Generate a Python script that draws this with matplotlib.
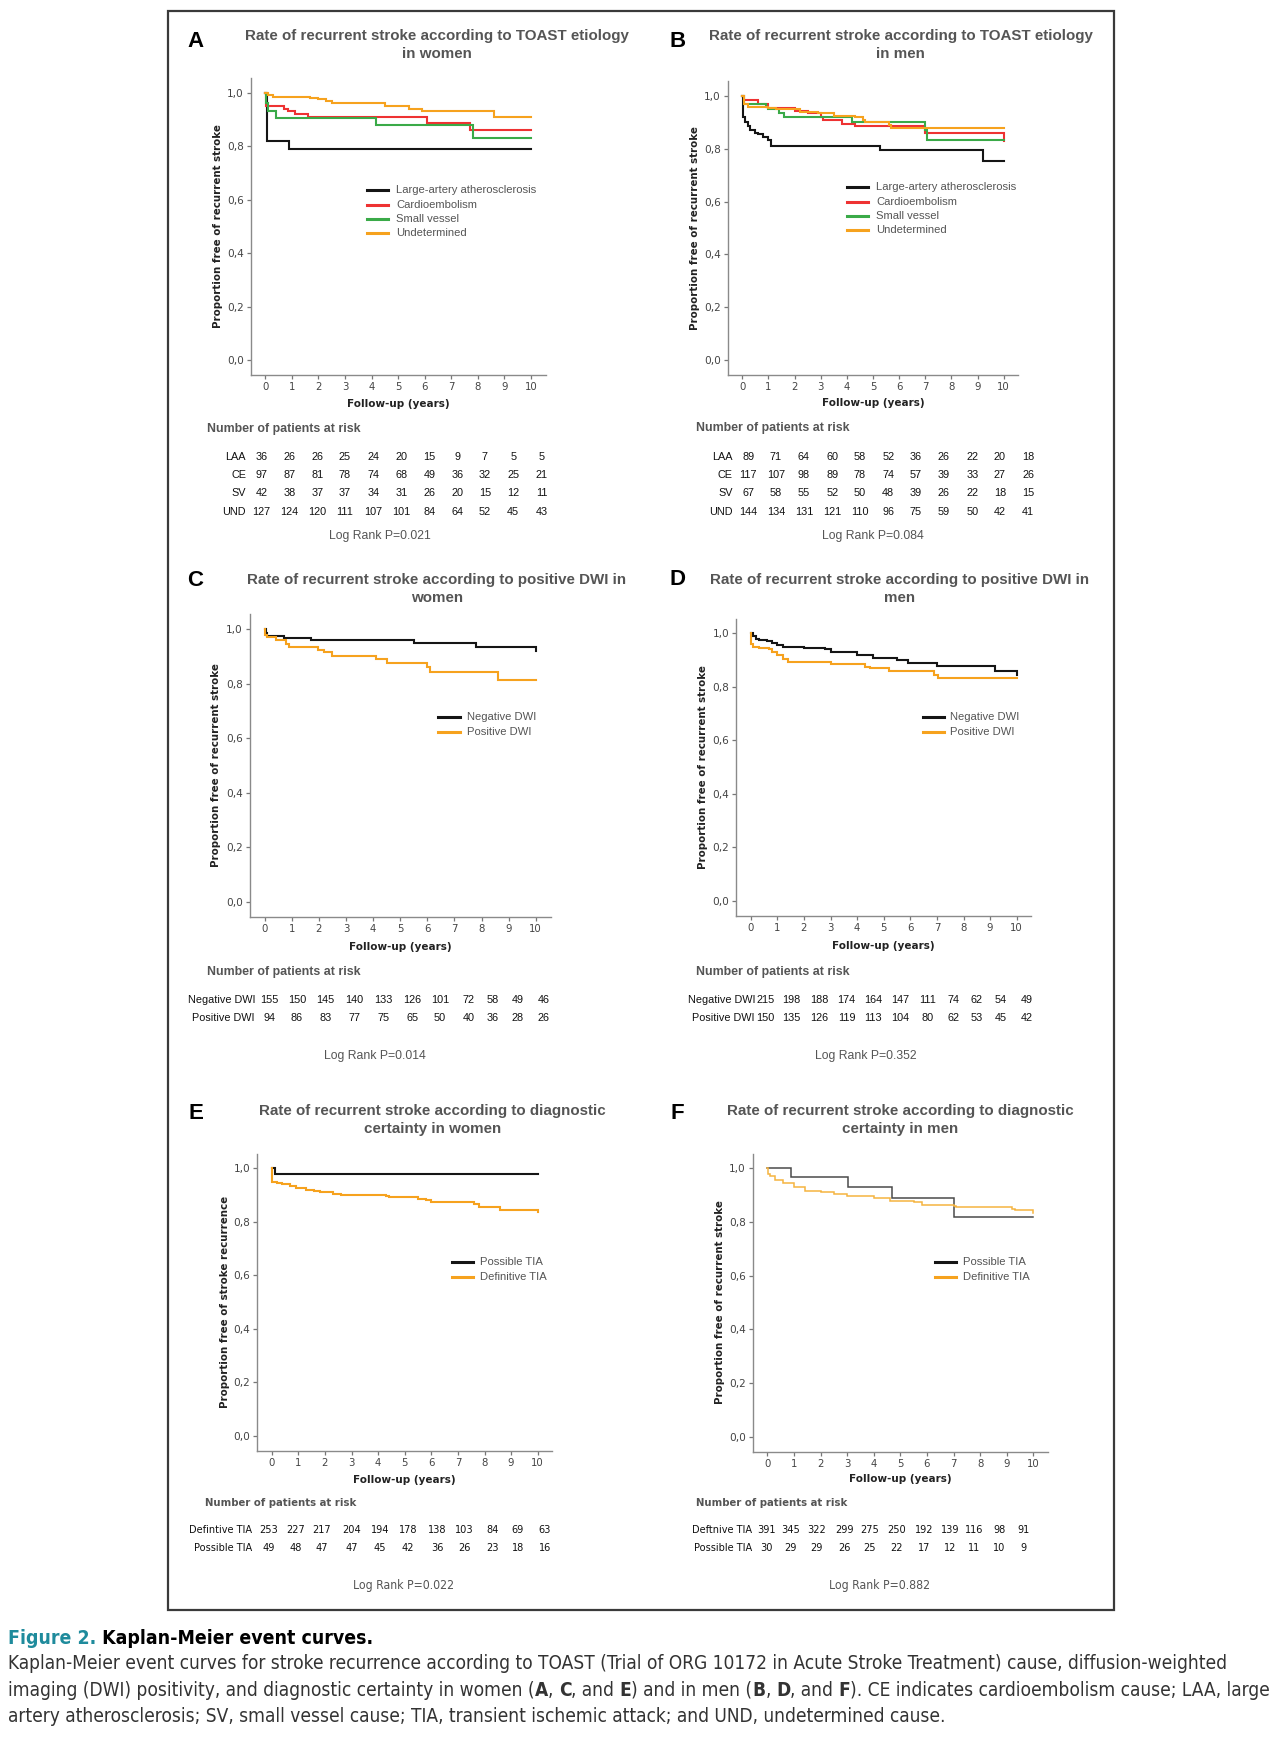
import matplotlib
matplotlib.use('Agg')
import matplotlib.pyplot as plt
from matplotlib.lines import Line2D
from matplotlib.patches import Rectangle
from matplotlib import font_manager

W, H = 1280, 1738
fig = plt.figure(figsize=(W / 100, H / 100), dpi=100)
fig.patch.set_facecolor('white')

SANS = 'Liberation Sans'
TICKF = 'DejaVu Sans'
# a condensed face if one is installed, else plain Liberation Sans
NARROW, NSTRETCH = 'Liberation Sans', 'normal'
for f in font_manager.fontManager.ttflist:
    if 'Narrow' in f.name or 'Condensed' in f.name or f.stretch in ('condensed', 'semi-condensed'):
        NARROW, NSTRETCH = f.name, f.stretch
        break

BLACK = '#151515'
RED = '#ee3232'
GREEN = '#3aaa48'
ORANGE = '#f6a21e'
GRAY = '#555555'

# ---- data ----
years = list(range(11))
ytick_vals = [0, 0.2, 0.4, 0.6, 0.8, 1.0]
ytick_labels = ['0,0', '0,2', '0,4', '0,6', '0,8', '1,0']

toast_labels = ['Large-artery atherosclerosis', 'Cardioembolism', 'Small vessel', 'Undetermined']
dwi_labels = ['Negative DWI', 'Positive DWI']
tia_labels = ['Possible TIA', 'Definitive TIA']

# A: women, TOAST
a_laa_t = [0, 0.05, 0.9, 10]
a_laa_s = [1.0, 0.82, 0.79, 0.79]
a_ce_t = [0, 0.04, 0.7, 0.85, 1.1, 1.6, 6.1, 7.7, 10]
a_ce_s = [1.0, 0.95, 0.94, 0.93, 0.92, 0.91, 0.885, 0.86, 0.86]
a_sv_t = [0, 0.03, 0.1, 0.4, 4.15, 7.8, 10]
a_sv_s = [1.0, 0.96, 0.93, 0.905, 0.88, 0.83, 0.83]
a_und_t = [0, 0.1, 0.3, 1.7, 2.0, 2.3, 2.5, 4.5, 5.4, 5.9, 8.6, 10]
a_und_s = [1.0, 0.99, 0.985, 0.98, 0.975, 0.97, 0.96, 0.95, 0.94, 0.93, 0.91, 0.91]

# B: men, TOAST
b_laa_t = [0, 0.02, 0.1, 0.2, 0.3, 0.5, 0.6, 0.8, 1.0, 1.1, 5.25, 9.2, 10]
b_laa_s = [1.0, 0.92, 0.9, 0.885, 0.87, 0.86, 0.855, 0.845, 0.835, 0.81, 0.795, 0.755, 0.755]
b_ce_t = [0, 0.05, 0.6, 1.0, 2.0, 2.5, 3.0, 3.1, 3.8, 4.3, 7.0, 10]
b_ce_s = [1.0, 0.985, 0.97, 0.955, 0.945, 0.935, 0.92, 0.91, 0.895, 0.885, 0.86, 0.83]
b_sv_t = [0, 0.05, 0.9, 1.0, 1.4, 1.6, 4.2, 7.0, 7.05, 10]
b_sv_s = [1.0, 0.97, 0.96, 0.95, 0.935, 0.92, 0.9, 0.87, 0.835, 0.835]
b_und_t = [0, 0.05, 0.2, 1.0, 1.3, 2.2, 2.9, 3.5, 4.3, 4.6, 4.7, 5.6, 5.7, 10]
b_und_s = [1.0, 0.97, 0.96, 0.955, 0.95, 0.94, 0.935, 0.925, 0.92, 0.91, 0.9, 0.89, 0.88, 0.88]

# C: women, DWI
c_neg_t = [0, 0.05, 0.1, 0.7, 1.7, 5.5, 7.8, 10]
c_neg_s = [1.0, 0.985, 0.975, 0.968, 0.96, 0.95, 0.935, 0.92]
c_pos_t = [0, 0.02, 0.1, 0.4, 0.8, 0.9, 1.95, 2.2, 2.5, 4.1, 4.5, 6.0, 6.1, 8.6, 10]
c_pos_s = [1.0, 0.98, 0.97, 0.96, 0.945, 0.935, 0.925, 0.915, 0.903, 0.89, 0.878, 0.863, 0.843, 0.815, 0.815]

# D: men, DWI
d_neg_t = [0, 0.1, 0.2, 0.3, 0.6, 0.8, 1.0, 1.2, 2.0, 2.8, 3.0, 4.0, 4.6, 5.5, 5.9, 7.0, 9.2, 10]
d_neg_s = [1.0, 0.99, 0.98, 0.975, 0.97, 0.965, 0.955, 0.95, 0.945, 0.94, 0.93, 0.92, 0.907, 0.9, 0.89, 0.879, 0.86, 0.845]
d_pos_t = [0, 0.02, 0.1, 0.3, 0.7, 0.8, 1.0, 1.2, 1.4, 3.0, 4.3, 4.5, 5.2, 6.9, 7.05, 10]
d_pos_s = [1.0, 0.96, 0.95, 0.945, 0.94, 0.93, 0.92, 0.905, 0.894, 0.884, 0.875, 0.869, 0.86, 0.845, 0.833, 0.833]

# E: women, diagnostic certainty
e_pos_t = [0, 0.14, 10]
e_pos_s = [1.0, 0.98, 0.98]
e_def_t = [0, 0.01, 0.2, 0.4, 0.7, 0.9, 1.3, 1.6, 1.8, 2.3, 2.6, 4.3, 4.4, 5.5, 5.8, 6.0, 7.6, 7.8, 8.6, 10]
e_def_s = [1.0, 0.95, 0.945, 0.94, 0.935, 0.925, 0.92, 0.915, 0.912, 0.905, 0.9, 0.895, 0.893, 0.885, 0.88, 0.875, 0.865, 0.854, 0.844, 0.835]

# F: men, diagnostic certainty
f_pos_t = [0, 0.88, 3.05, 4.67, 7.0, 10]
f_pos_s = [1.0, 0.966, 0.929, 0.888, 0.817, 0.817]
f_def_t = [0, 0.02, 0.1, 0.3, 0.6, 1.0, 1.4, 2.0, 2.5, 3.0, 4.0, 4.6, 5.5, 5.8, 7.0, 7.1, 9.2, 9.3, 10]
f_def_s = [1.0, 0.98, 0.97, 0.955, 0.945, 0.93, 0.915, 0.91, 0.905, 0.895, 0.89, 0.88, 0.875, 0.865, 0.86, 0.855, 0.85, 0.843, 0.835]

# numbers at risk
toast_rows = ['LAA', 'CE', 'SV', 'UND']
a_risk = [[36, 26, 26, 25, 24, 20, 15, 9, 7, 5, 5],
          [97, 87, 81, 78, 74, 68, 49, 36, 32, 25, 21],
          [42, 38, 37, 37, 34, 31, 26, 20, 15, 12, 11],
          [127, 124, 120, 111, 107, 101, 84, 64, 52, 45, 43]]
b_risk = [[89, 71, 64, 60, 58, 52, 36, 26, 22, 20, 18],
          [117, 107, 98, 89, 78, 74, 57, 39, 33, 27, 26],
          [67, 58, 55, 52, 50, 48, 39, 26, 22, 18, 15],
          [144, 134, 131, 121, 110, 96, 75, 59, 50, 42, 41]]
dwi_rows = ['Negative DWI', 'Positive DWI']
c_risk = [[155, 150, 145, 140, 133, 126, 101, 72, 58, 49, 46],
          [94, 86, 83, 77, 75, 65, 50, 40, 36, 28, 26]]
d_risk = [[215, 198, 188, 174, 164, 147, 111, 74, 62, 54, 49],
          [150, 135, 126, 119, 113, 104, 80, 62, 53, 45, 42]]
e_rows = ['Defintive TIA', 'Possible TIA']
e_risk = [[253, 227, 217, 204, 194, 178, 138, 103, 84, 69, 63],
          [49, 48, 47, 47, 45, 42, 36, 26, 23, 18, 16]]
f_rows = ['Deftnive TIA', 'Possible TIA']
f_risk = [[391, 345, 322, 299, 275, 250, 192, 139, 116, 98, 91],
          [30, 29, 29, 26, 25, 22, 17, 12, 11, 10, 9]]

p_values = ['0.021', '0.084', '0.014', '0.352', '0.022', '0.882']

titles = ['Rate of recurrent stroke according to TOAST etiology\nin women',
          'Rate of recurrent stroke according to TOAST etiology\nin men',
          'Rate of recurrent stroke according to positive DWI in\nwomen',
          'Rate of recurrent stroke according to positive DWI in\nmen',
          'Rate of recurrent stroke according to diagnostic\ncertainty in women',
          'Rate of recurrent stroke according to diagnostic\ncertainty in men']


def fx(x):
    return x / W


def fy(y):
    return 1 - y / H


def make_ax(x0, x10, y1, y0):
    ppx = (x10 - x0) / 10
    ppy = y0 - y1
    left = x0 - 0.55 * ppx
    right = x0 + 10.55 * ppx
    top = y1 - 0.055 * ppy
    bottom = y0 + 0.056 * ppy
    ax = fig.add_axes([fx(left), fy(bottom), (right - left) / W, (bottom - top) / H])
    ax.set_xlim(-0.55, 10.55)
    ax.set_ylim(-0.056, 1.055)
    for s in ['top', 'right']:
        ax.spines[s].set_visible(False)
    for s in ['left', 'bottom']:
        ax.spines[s].set_color('#8a8a8a')
        ax.spines[s].set_linewidth(1.0)
    ax.set_xticks(years)
    ax.set_xticklabels([str(v) for v in years], fontsize=7.3, family=TICKF, color='#444')
    ax.set_yticks(ytick_vals)
    ax.set_yticklabels(ytick_labels, fontsize=7.6, family=TICKF, color='#444')
    ax.tick_params(length=3, width=0.9, color='#777', pad=2)
    ax.patch.set_alpha(0)
    return ax


def draw_panel(letter, lx, ly, title, tx, ty, box, ylab, ylab_x, xlab_y, curves):
    x0, x10, y1, y0 = box
    ax = make_ax(*box)
    for t, s, c, lw in curves:
        ax.step(t, s, where='post', color=c, lw=lw, solid_joinstyle='miter')
    fig.text(fx(lx), fy(ly), letter, fontsize=16, weight='bold', family=SANS,
             ha='center', va='center', color='black')
    fig.text(fx(tx), fy(ty), title, fontsize=10.9, weight='bold', family=SANS,
             ha='center', va='top', color=GRAY, linespacing=1.38)
    fig.text(fx(ylab_x), fy((y1 + y0) / 2), ylab, fontsize=7.4, weight='bold', family=TICKF,
             rotation=90, ha='center', va='center', color='#222')
    fig.text(fx((x0 + x10) / 2), fy(xlab_y), 'Follow-up (years)', fontsize=7.5, weight='bold',
             family=TICKF, ha='center', va='center', color='#222')
    return ax


def draw_legend(xl0, xl1, xt, rows_y, labels, colors):
    for y, lab, c in zip(rows_y, labels, colors):
        fig.add_artist(Line2D([fx(xl0), fx(xl1)], [fy(y), fy(y)], color=c, lw=2.2,
                              transform=fig.transFigure))
        fig.text(fx(xt), fy(y), lab, fontsize=8.1, family=SANS, color=GRAY,
                 ha='left', va='center')


def draw_table(hdr, lab_r, cols, rows_y, labels, counts, pxy, pval, family, stretch, size, hsize):
    fig.text(fx(hdr[0]), fy(hdr[1]), 'Number of patients at risk', fontsize=hsize,
             weight='bold', family=family, stretch=stretch, color=GRAY, ha='left', va='center')
    for y, lab, row in zip(rows_y, labels, counts):
        fig.text(fx(lab_r), fy(y), lab, fontsize=size, family=family, stretch=stretch,
                 color='#111', ha='right', va='center')
        for x, n in zip(cols, row):
            fig.text(fx(x), fy(y), str(n), fontsize=size, family=family, stretch=stretch,
                     color='#111', ha='center', va='center')
    fig.text(fx(pxy[0]), fy(pxy[1]), 'Log Rank P=' + pval, fontsize=8.8, family=family,
             stretch=stretch, color=GRAY, ha='center', va='center')


LW = 1.5

# ---- panels ----
draw_panel('A', 195.7, 41.7, titles[0], 436.7, 29, (265.3, 531, 92.7, 360),
           'Proportion free of recurrent stroke', 218, 404,
           [(a_laa_t, a_laa_s, BLACK, LW), (a_ce_t, a_ce_s, RED, LW),
            (a_sv_t, a_sv_s, GREEN, LW), (a_und_t, a_und_s, ORANGE, LW)])
draw_legend(366.7, 388.3, 396, [190, 205, 219, 233], toast_labels, [BLACK, RED, GREEN, ORANGE])

draw_panel('B', 677.7, 41.7, titles[1], 900.5, 29, (742.3, 1003.7, 96, 360),
           'Proportion free of recurrent stroke', 695, 403.3,
           [(b_laa_t, b_laa_s, BLACK, LW), (b_ce_t, b_ce_s, RED, LW),
            (b_sv_t, b_sv_s, GREEN, LW), (b_und_t, b_und_s, ORANGE, LW)])
draw_legend(846.7, 868.3, 876, [186.7, 201.7, 215.7, 230], toast_labels, [BLACK, RED, GREEN, ORANGE])

draw_panel('C', 195, 580, titles[2], 436.7, 573, (264.7, 535.7, 629.3, 901.7),
           'Proportion free of recurrent stroke', 216, 946.7,
           [(c_neg_t, c_neg_s, BLACK, LW), (c_pos_t, c_pos_s, ORANGE, LW)])
draw_legend(438.3, 460, 466.7, [716.7, 732.3], dwi_labels, [BLACK, ORANGE])

draw_panel('D', 677.7, 579.3, titles[3], 900, 573, (750.7, 1016.7, 633.3, 901),
           'Proportion free of recurrent stroke', 703.3, 946,
           [(d_neg_t, d_neg_s, BLACK, LW), (d_pos_t, d_pos_s, ORANGE, LW)])
draw_legend(922.7, 944, 950, [716.7, 732.3], dwi_labels, [BLACK, ORANGE])

draw_panel('E', 195.7, 1113.3, titles[4], 432.7, 1104, (271.7, 537.7, 1168.3, 1436),
           'Proportion free of stroke recurrence', 225, 1480,
           [(e_pos_t, e_pos_s, BLACK, LW), (e_def_t, e_def_s, ORANGE, LW)])
draw_legend(452.3, 473.3, 480, [1261.7, 1276.7], tia_labels, [BLACK, ORANGE])

draw_panel('F', 677.7, 1113.3, titles[5], 900, 1104, (767.3, 1033.3, 1168.3, 1436.7),
           'Proportion free of recurrent stroke', 720, 1479,
           [(f_pos_t, f_pos_s, '#4a4a4a', 1.1), (f_def_t, f_def_s, '#f5b440', 1.1)])
draw_legend(935, 956, 962.7, [1261.7, 1276.7], tia_labels, [BLACK, ORANGE])

# ---- risk tables ----
draw_table((206.7, 429), 246,
           [261.7, 289.3, 317.3, 345, 373.3, 401.7, 429.3, 457.7, 485, 513.3, 541.7],
           [456.5, 475, 493.5, 512], toast_rows, a_risk, (380, 536), p_values[0], SANS, 'normal', 7.8, 8.9)
draw_table((696, 428), 732.7,
           [748.3, 776, 804, 832.3, 860, 888.3, 916, 944, 972.3, 1000, 1028.3],
           [456.5, 475, 493.5, 512], toast_rows, b_risk, (873.3, 536), p_values[1], SANS, 'normal', 7.8, 8.9)
draw_table((206.7, 972.5), 255,
           [269.3, 297, 325.7, 354.3, 383.3, 412.3, 440, 468.3, 492.3, 517.3, 544],
           [1000, 1017.7], dwi_rows, c_risk, (375, 1056), p_values[2], SANS, 'normal', 7.8, 8.9)
draw_table((696, 972), 755,
           [765.7, 791.7, 819.3, 846.7, 873.3, 900, 927.3, 953.3, 976.7, 1000.7, 1026.7],
           [1000, 1017.7], dwi_rows, d_risk, (866, 1056), p_values[3], SANS, 'normal', 7.8, 8.9)
draw_table((205, 1503), 252,
           [268.4, 296, 322, 352, 380, 408, 437, 464, 492.5, 518, 544.6],
           [1530, 1548], e_rows, e_risk, (403.7, 1586), p_values[4], NARROW, NSTRETCH, 7.8, 8.1)
draw_table((696, 1503), 752,
           [766, 790.7, 816.5, 844, 870, 896.7, 924, 950, 974.5, 999, 1023.4],
           [1530, 1548], f_rows, f_risk, (879.5, 1586), p_values[5], NARROW, NSTRETCH, 7.8, 8.1)

# frame
fig.add_artist(Rectangle((fx(168), fy(1610)), (1114 - 168) / W, (1610 - 11) / H, fill=False,
                         lw=1.6, ec='#3a3a3a', transform=fig.transFigure))

# ---- caption ----
renderer = fig.canvas.get_renderer()


def text_width(txt, size, weight):
    t1 = fig.text(0, 0, '|' + txt + '|', fontsize=size, weight=weight, family=NARROW, stretch=NSTRETCH)
    t2 = fig.text(0, 0, '||', fontsize=size, weight=weight, family=NARROW, stretch=NSTRETCH)
    w = t1.get_window_extent(renderer).width - t2.get_window_extent(renderer).width
    t1.remove()
    t2.remove()
    return w


def line_width(parts, size):
    return sum(text_width(txt, size, weight) for txt, weight, _ in parts)


def rich_line(x, y, parts, size):
    for txt, weight, color in parts:
        fig.text(fx(x), fy(y), txt, fontsize=size, weight=weight, family=NARROW,
                 stretch=NSTRETCH, color=color, ha='left', va='center')
        x += text_width(txt, size, weight)


TEAL = '#1f8b9c'
CAP = '#333333'
cap_head = [('Figure 2.', 'bold', TEAL), (' Kaplan-Meier event curves.', 'bold', 'black')]
cap1 = [('Kaplan-Meier event curves for stroke recurrence according to TOAST (Trial of ORG 10172 '
         'in Acute Stroke Treatment) cause, diffusion-weighted', 'normal', CAP)]
cap2 = [('imaging (DWI) positivity, and diagnostic certainty in women (', 'normal', CAP),
        ('A', 'bold', CAP), (', ', 'normal', CAP), ('C', 'bold', CAP),
        (', and ', 'normal', CAP), ('E', 'bold', CAP), (') and in men (', 'normal', CAP),
        ('B', 'bold', CAP), (', ', 'normal', CAP), ('D', 'bold', CAP),
        (', and ', 'normal', CAP), ('F', 'bold', CAP),
        ('). CE indicates cardioembolism cause; LAA, large', 'normal', CAP)]
cap3 = [('artery atherosclerosis; SV, small vessel cause; TIA, transient ischemic attack; '
         'and UND, undetermined cause.', 'normal', CAP)]

# fit the body lines to the widths they take in the reference
CS = min(10 * 1263 / line_width(cap1, 10), 10 * 1266 / line_width(cap2, 10))
HS = 10 * 362 / line_width(cap_head, 10)
rich_line(8, 1638, cap_head, HS)
rich_line(8, 1663.5, cap1, CS)
rich_line(8, 1690, cap2, CS)
rich_line(8, 1717, cap3, CS)

fig.savefig('out.png', dpi=100, facecolor='white')
